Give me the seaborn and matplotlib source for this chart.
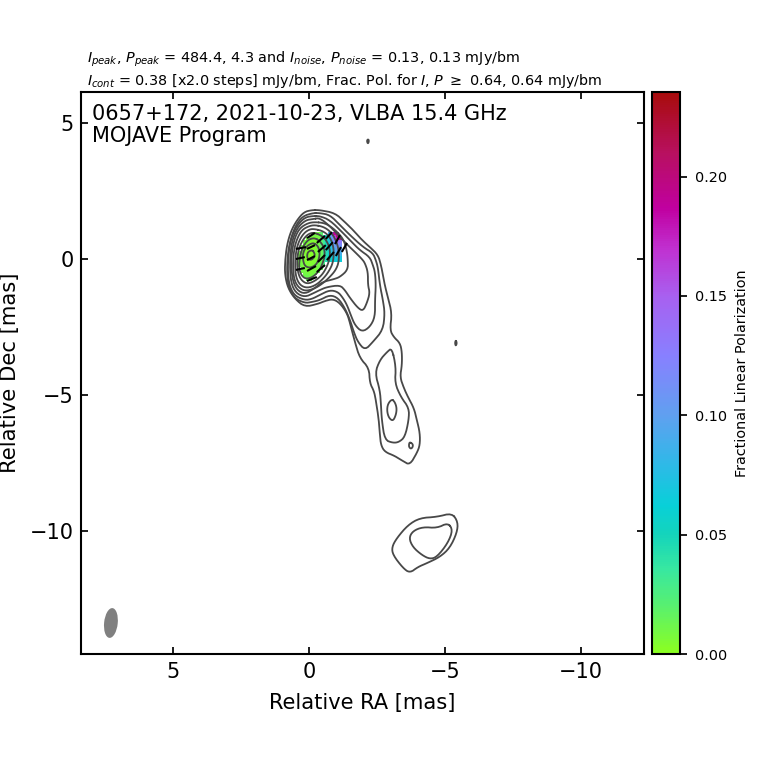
import numpy as np
import pandas as pd
import matplotlib
matplotlib.use("Agg")
import matplotlib.pyplot as plt
from matplotlib.colors import LinearSegmentedColormap
from matplotlib.patches import Ellipse
import seaborn as sns

# Stokes I contours, (relative RA, relative Dec) in mas, outermost level first
level_0 = [(-.11,1.80),(-.40,1.80),(-.96,1.69),(-1.32,1.36),(-1.62,1.07),(-1.95,.70),(-2.24,.44),(-2.54,.15),(-2.65,-.22),(-2.72,-.59),(-2.79,-.96),(-2.90,-1.40),(-3.05,-1.99),(-2.98,-2.61),(-3.12,-2.87),(-3.35,-3.09),(-3.42,-3.42),(-3.42,-3.90),(-3.35,-4.34),(-3.49,-4.74),(-3.64,-5.07),(-3.86,-5.48),(-3.97,-5.92),(-4.08,-6.40),(-4.08,-6.84),(-3.97,-7.13),(-3.71,-7.57),(-3.46,-7.43),(-3.16,-7.24),(-2.79,-7.09),(-2.65,-6.84),(-2.61,-6.47),(-2.57,-5.92),(-2.46,-5.18),(-2.39,-4.85),(-2.24,-4.56),(-2.21,-4.01),(-1.87,-3.64),(-1.69,-3.05),(-1.51,-2.35),(-1.40,-1.99),(-1.14,-1.62),(-.88,-1.47),(-.59,-1.54),(-.33,-1.65),(.15,-1.76),(.51,-1.47),(.77,-1.07),(.88,-.59),(.88,-.11),(.81,.51),(.66,1.03),(.44,1.43),(.18,1.73),(-.11,1.80)]
level_1 = [(-.15,1.69),(-.40,1.69),(-.77,1.62),(-1.14,1.25),(-1.51,.88),(-1.99,.44),(-2.35,.22),(-2.46,-.04),(-2.54,-.33),(-2.61,-.96),(-2.72,-1.51),(-2.79,-1.99),(-2.72,-2.61),(-2.35,-3.05),(-2.06,-3.35),(-1.80,-3.05),(-1.65,-2.68),(-1.51,-2.24),(-1.32,-1.80),(-1.07,-1.43),(-.77,-1.32),(-.40,-1.51),(-.11,-1.58),(.15,-1.62),(.55,-1.43),(.77,-.96),(.81,-.40),(.77,.26),(.66,.77),(.48,1.25),(.22,1.58),(-.15,1.69)]
level_2 = [(-.15,1.58),(-.40,1.58),(-.77,1.43),(-1.25,.96),(-1.58,.62),(-1.87,.33),(-2.24,.07),(-2.35,-.22),(-2.43,-.48),(-2.46,-.96),(-2.43,-1.51),(-2.43,-2.13),(-2.24,-2.50),(-1.95,-2.68),(-1.69,-2.43),(-1.54,-2.06),(-1.40,-1.69),(-1.25,-1.43),(-1.07,-1.21),(-.77,-1.14),(-.40,-1.32),(-.11,-1.47),(.15,-1.51),(.51,-1.36),(.70,-1.03),(.77,-.59),(.77,-.04),(.70,.59),(.55,1.03),(.33,1.36),(.11,1.54),(-.15,1.58)]
level_3 = [(-.15,1.47),(-.40,1.51),(-.77,1.21),(-1.14,.81),(-1.43,.51),(-1.69,.26),(-1.95,0),(-2.06,-.15),(-2.17,-.48),(-2.17,-.96),(-2.24,-1.25),(-2.13,-1.62),(-1.99,-1.91),(-1.80,-1.80),(-1.51,-1.43),(-1.32,-1.14),(-1.14,-.96),(-.66,-1.03),(-.40,-1.14),(-.18,-1.25),(.15,-1.40),(.48,-1.25),(.66,-.88),(.70,-.22),(.66,.44),(.55,.88),(.37,1.21),(.11,1.43),(-.15,1.47)]
level_4 = [(-.22,1.36),(-.59,1.32),(-.88,1.14),(-1.18,.85),(-1.32,.59),(-1.40,.26),(-1.43,-.04),(-1.43,-.40),(-1.14,-.66),(-.92,-.74),(-.48,-.85),(-.22,-1.07),(.15,-1.29),(.44,-1.14),(.59,-.81),(.66,-.22),(.62,.33),(.51,.81),(.33,1.14),(.04,1.32),(-.22,1.36)]
level_5 = [(-.22,1.25),(-.55,1.18),(-.81,.99),(-.99,.70),(-1.10,.33),(-1.10,-.11),(-.99,-.40),(-.77,-.66),(-.48,-.92),(-.18,-1.10),(.15,-1.18),(.40,-1.03),(.55,-.74),(.59,-.22),(.55,.33),(.44,.74),(.26,1.07),(0,1.21),(-.22,1.25)]
level_6 = [(-.22,1.10),(-.51,1.03),(-.74,.85),(-.88,.55),(-.92,.22),(-.88,-.15),(-.74,-.44),(-.55,-.70),(-.26,-.96),(.07,-1.07),(.33,-.96),(.48,-.66),(.51,-.22),(.48,.26),(.37,.66),(.18,.96),(-.04,1.10),(-.22,1.10)]
level_7 = [(-.22,.96),(-.48,.85),(-.66,.66),(-.77,.37),(-.77,.04),(-.66,-.29),(-.48,-.59),(-.22,-.81),(.07,-.92),(.29,-.77),(.40,-.51),(.44,-.15),(.40,.26),(.29,.59),(.11,.85),(-.07,.96),(-.22,.96)]
level_8 = [(-.22,.77),(-.40,.66),(-.55,.44),(-.59,.15),(-.51,-.15),(-.37,-.44),(-.15,-.66),(.11,-.74),(.29,-.59),(.37,-.29),(.33,.07),(.26,.37),(.11,.62),(-.04,.74),(-.22,.77)]
level_9 = [(-.18,.59),(-.33,.48),(-.40,.26),(-.37,0),(-.26,-.22),(-.04,-.33),(.15,-.26),(.22,-.04),(.22,.22),(.11,.44),(-.04,.55),(-.18,.59)]
level_10 = [(-.11,.33),(-.18,.26),(-.22,.15),(-.18,.04),(-.07,-.04),(.04,0),(.07,.11),(.04,.26),(-.11,.33)]
jet_loop = [(-3.05,-3.27),(-3.20,-3.97),(-3.16,-4.56),(-3.38,-5.07),(-3.68,-5.48),(-3.67,-5.92),(-3.53,-6.54),(-3.31,-6.73),(-3.09,-6.76),(-2.79,-6.65),(-2.68,-5.92),(-2.65,-5.37),(-2.61,-4.82),(-2.43,-4.19),(-2.61,-3.71),(-2.87,-3.42),(-3.05,-3.27)]
jet_knot = [(-3.05,-5.15),(-3.16,-5.26),(-3.23,-5.48),(-3.20,-5.73),(-3.09,-5.96),(-2.94,-5.84),(-2.87,-5.59),(-2.90,-5.33),(-3.05,-5.15)]
jet_spot = [(-3.71,-6.73),(-3.82,-6.80),(-3.82,-6.91),(-3.75,-6.98),(-3.68,-6.91),(-3.68,-6.80),(-3.71,-6.73)]
blob_outer = [(-5.26,-9.34),(-5.48,-9.67),(-5.44,-10.07),(-5.18,-10.62),(-4.82,-10.95),(-4.34,-11.18),(-4.01,-11.32),(-3.71,-11.54),(-3.46,-11.36),(-3.09,-10.88),(-3.05,-10.59),(-3.23,-10.26),(-3.64,-9.78),(-4.08,-9.52),(-4.71,-9.48),(-5.26,-9.34)]
blob_inner = [(-5.11,-9.70),(-5.29,-9.96),(-5.11,-10.44),(-4.71,-10.95),(-4.45,-11.03),(-4.15,-10.88),(-3.82,-10.59),(-3.68,-10.26),(-3.82,-10.00),(-4.19,-9.85),(-4.71,-9.89),(-5.11,-9.70)]
speck_north = [(-2.17,4.41),(-2.21,4.34),(-2.17,4.23),(-2.13,4.34),(-2.17,4.41)]
speck_east = [(-5.40,-2.98),(-5.44,-3.09),(-5.40,-3.20),(-5.37,-3.09),(-5.40,-2.98)]
contours = [level_0, level_1, level_2, level_3, level_4, level_5, level_6, level_7, level_8,
            level_9, level_10, jet_loop, jet_knot, jet_spot, blob_outer, blob_inner,
            speck_north, speck_east]

# Fractional polarization map
n = np.nan
pol_ra_edges = [0.40, 0.30, 0.20, 0.10, 0.00, -0.10, -0.20, -0.30, -0.40, -0.50, -0.60, -0.70, -0.80, -0.90, -1.00, -1.10, -1.20]
pol_dec_edges = [1.00, 0.90, 0.80, 0.70, 0.60, 0.50, 0.40, 0.30, 0.20, 0.10, 0.00, -0.10, -0.20, -0.30, -0.40, -0.50, -0.60, -0.70, -0.80]
pol_frac = [
    [n,n,n,n,n,n,.01,.01,.02,n,n,.09,.11,.19,.19,n],
    [n,n,n,n,.01,.01,.01,.01,.02,.04,.05,.08,.12,.17,.2,n],
    [n,n,n,.01,.01,.005,.005,.01,.02,.04,.05,.07,.1,.14,.18,.19],
    [n,n,.01,.01,.005,.005,.005,.01,.02,.035,.05,.07,.09,.12,.14,.13],
    [n,n,.01,.005,.005,.005,.005,.01,.02,.03,.05,.065,.085,.10,.12,.12],
    [n,.01,.01,.005,.005,.003,.005,.01,.02,.03,.05,.065,.08,.10,.11,.11],
    [n,.01,.005,.005,.003,.003,.005,.01,.015,.03,.05,.06,.08,.09,.10,.10],
    [.01,.01,.005,.003,.003,.003,.005,.008,.015,.03,.045,.06,.075,.09,.09,.09],
    [.01,.008,.005,.003,.002,.003,.005,.008,.015,.03,.045,.06,.07,.08,.085,.085],
    [.01,.008,.005,.003,.002,.003,.005,.008,.015,.03,.045,.055,.065,.07,.07,.07],
    [.01,.008,.005,.004,.003,.004,.005,.008,.015,.03,.045,.055,.06,.065,.065,.065],
    [.01,.008,.005,.005,.004,.005,.006,.01,.015,.03,n,n,n,n,n,n],
    [.01,.01,.006,.005,.005,.006,.008,.01,.015,.025,n,n,n,n,n,n],
    [n,.01,.008,.006,.005,.007,.008,.01,.015,n,n,n,n,n,n,n],
    [n,.01,.01,.008,.007,.008,.01,.012,n,n,n,n,n,n,n,n],
    [n,n,.01,.01,.008,.01,.012,n,n,n,n,n,n,n,n,n],
    [n,n,.012,.012,.01,.012,n,n,n,n,n,n,n,n,n,n],
    [n,n,n,.015,.015,n,n,n,n,n,n,n,n,n,n,n],
]
pol_vmax = 0.2354

# Polarization direction sticks: RA start, Dec start, RA end, Dec end
evpa_sticks = [(.48,.37,.11,.44),(.48,0,.15,.07),(.48,-.40,.15,-.33),(.07,.77,-.22,.96),(.07,.37,-.22,.51),
               (.07,-.04,-.22,.11),(.07,-.44,-.26,-.26),(.07,-.81,-.29,-.66),(-.29,.59,-.59,.85),(-.33,.26,-.62,.51),
               (-.33,-.11,-.59,.15),(-.29,-.48,-.59,-.22),(-.62,.74,-.85,.99),(-.62,.33,-.88,.62),(-.66,-.04,-.92,.26),
               (-.96,.55,-1.14,.88),(-.99,.11,-1.18,.44),(-1.21,.26,-1.40,.59)]

# Colour map stops
cmap_values = [0.0, .02, .035, .05, .062, .08, .10, .125, .15, .17, .187, .21, pol_vmax]
cmap_colors = ["#8cff20", "#58f070", "#38e8a0", "#14d4bc", "#08d0d8", "#30b8e8", "#60a0f0", "#8880ff",
               "#a860f0", "#c030d0", "#c000a0", "#b81060", "#a80c0c"]

title_line_1 = r"$I_{peak}$, $P_{peak}$ = 484.4, 4.3 and $I_{noise}$, $P_{noise}$ = 0.13, 0.13 mJy/bm"
title_line_2 = r"$I_{cont}$ = 0.38 [x2.0 steps] mJy/bm, Frac. Pol. for $I$, $P$ $\geq$ 0.64, 0.64 mJy/bm"
inset_text = "0657+172, 2021-10-23, VLBA 15.4 GHz\nMOJAVE Program"
ra_ticks = [5, 0, -5, -10]
dec_ticks = [5, 0, -5, -10]
cbar_ticks = [0.00, 0.05, 0.10, 0.15, 0.20]


def rounded_loop(points, passes=2):
    """Corner-cut a closed loop for drawing, so contours are curves, not polygons."""
    p = np.asarray(points[:-1], dtype=float)
    for _ in range(passes):
        q = np.roll(p, -1, axis=0)
        p = np.column_stack([0.75 * p + 0.25 * q, 0.25 * p + 0.75 * q]).reshape(-1, 2)
    return np.vstack([p, p[:1]])


sns.set_theme(style="white", font="DejaVu Sans")
plt.rcParams["axes.edgecolor"] = "black"
plt.rcParams["text.color"] = "black"
plt.rcParams["axes.labelcolor"] = "black"
plt.rcParams["xtick.color"] = "black"
plt.rcParams["ytick.color"] = "black"

fig = plt.figure(figsize=(7.6, 7.6), dpi=100)
ax = fig.add_axes([81/760, 106/760, 563/760, 562/760])

cmap = LinearSegmentedColormap.from_list(
    "mojave", [(v / pol_vmax, c) for v, c in zip(cmap_values, cmap_colors)], N=256)
mesh = ax.pcolormesh(pol_ra_edges, pol_dec_edges, np.ma.masked_invalid(pol_frac),
                     cmap=cmap, vmin=0, vmax=pol_vmax, shading="flat", zorder=1)

frame = pd.DataFrame(
    [(i, ra, dec) for i, c in enumerate(contours) for ra, dec in rounded_loop(c)],
    columns=["contour", "ra", "dec"])
sns.lineplot(data=frame, x="ra", y="dec", units="contour", estimator=None, sort=False,
             color="#484848", linewidth=1.3, legend=False, ax=ax, zorder=2)

for ra0, dec0, ra1, dec1 in evpa_sticks:
    ax.plot([ra0, ra1], [dec0, dec1], color="black", lw=1.5, solid_capstyle="butt", zorder=3)

ax.add_patch(Ellipse((7.28, -13.38), 0.50, 1.10, angle=6, facecolor="#808080", edgecolor="none", zorder=2))

ax.set_xlim(8.38, -12.32)
ax.set_ylim(-14.52, 6.14)
ax.set_xticks(ra_ticks)
ax.set_yticks(dec_ticks)
ax.set_xticklabels(["5", "0", "\u22125", "\u221210"])
ax.set_yticklabels(["5", "0", "\u22125", "\u221210"])
ax.tick_params(axis="x", which="major", direction="in", length=5, width=1.25,
               top=True, bottom=True, labelsize=15, pad=6)
ax.tick_params(axis="y", which="major", direction="in", length=5, width=1.25,
               left=True, right=True, labelsize=15, pad=5)
ax.set_xlabel("Relative RA [mas]", fontsize=15.1, labelpad=7.5)
ax.set_ylabel("Relative Dec [mas]", fontsize=15.2, labelpad=7)
for s in ax.spines.values():
    s.set_linewidth(1.5)
    s.set_visible(True)
    s.set_color("black")

ax.text(0.0195, 0.978, inset_text, transform=ax.transAxes, va="top", ha="left", fontsize=15, linespacing=1.1)
fig.text(87/760, 1 - 63/760, title_line_1, fontsize=10.4, va="baseline", ha="left")
fig.text(87/760, 1 - 85/760, title_line_2, fontsize=10.4, va="baseline", ha="left")

cax = fig.add_axes([652/760, 106/760, 28/760, 562/760])
cbar = fig.colorbar(mesh, cax=cax)
cbar.set_ticks(cbar_ticks)
cbar.set_ticklabels(["0.00", "0.05", "0.10", "0.15", "0.20"])
cbar.ax.tick_params(direction="out", length=5, width=1.25, labelsize=10.4, pad=6, right=True)
cbar.outline.set_linewidth(1.5)
cbar.outline.set_edgecolor("black")
cbar.set_label("Fractional Linear Polarization", fontsize=10.4, labelpad=5.5)

fig.savefig("out.png", dpi=100)
